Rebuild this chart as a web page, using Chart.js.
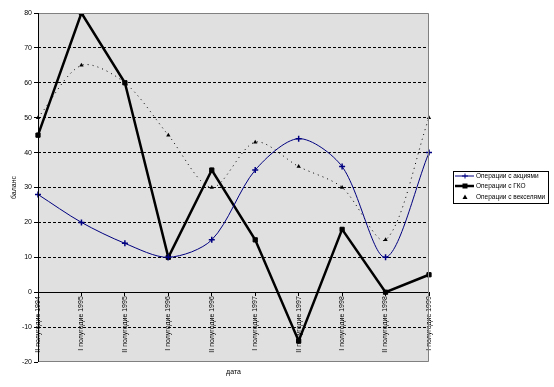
<!DOCTYPE html>
<html>
<head>
<meta charset="utf-8">
<script src="https://cdn.jsdelivr.net/npm/chart.js@4"></script>
<style>
  html, body { margin: 0; padding: 0; background: #fff; }
  #wrap { width: 554px; height: 387px; }
</style>
</head>
<body>
<div id="wrap"><canvas id="chart"></canvas></div>
<script>
const periods = ['II полугодие 1994', 'I полугодие 1995', 'II полугодие 1995', 'I полугодие 1996', 'II полугодие 1996',
                 'I полугодие 1997', 'II полугодие 1997', 'I полугодие 1998', 'II полугодие 1998', 'I полугодие 1999'];
const stocks = [28, 20, 14, 10, 15, 35, 44, 36, 10, 40];
const gko = [45, 80, 60, 10, 35, 15, -14, 18, 0, 5];
const bills = [50, 65, 60, 45, 30, 43, 36, 30, 15, 50];
const yTicks = { min: -20, max: 80, step: 10 };

const FONT = 'Arial, "Liberation Sans", sans-serif';

// серый фон и рамка области построения, подпись оси X, легенда в рамке
const excelLook = {
    id: 'excelLook',
    beforeDraw(chart) {
        const { ctx, chartArea: a } = chart;
        ctx.save();
        ctx.fillStyle = '#e0e0e0';
        ctx.fillRect(a.left, a.top, a.right - a.left, a.bottom - a.top);
        ctx.restore();
    },
    afterDraw(chart) {
        const { ctx, chartArea: a } = chart;
        ctx.save();
        ctx.strokeStyle = '#808080';
        ctx.lineWidth = 1;
        ctx.beginPath();
        ctx.moveTo(a.left, a.top + 0.5);
        ctx.lineTo(a.right - 0.5, a.top + 0.5);
        ctx.lineTo(a.right - 0.5, a.bottom - 0.5);
        ctx.lineTo(a.left, a.bottom - 0.5);
        ctx.stroke();
        // левая ось поверх рамки
        ctx.strokeStyle = '#000';
        ctx.beginPath();
        ctx.moveTo(a.left + 0.5, a.top);
        ctx.lineTo(a.left + 0.5, a.bottom);
        ctx.stroke();

        ctx.fillStyle = '#000';
        ctx.font = '7px ' + FONT;
        ctx.textAlign = 'center';
        ctx.textBaseline = 'middle';
        ctx.fillText('дата', (a.left + a.right) / 2, 372);

        // легенда
        const box = { x: 453.5, y: 171.5, w: 95, h: 32 };
        ctx.fillStyle = '#fff';
        ctx.fillRect(box.x, box.y, box.w, box.h);
        ctx.strokeStyle = '#000';
        ctx.strokeRect(box.x, box.y, box.w, box.h);
        const rows = [176, 186, 197];
        chart.data.datasets.forEach((ds, i) => {
            const y = rows[i];
            if (i < 2) {
                ctx.strokeStyle = ds.borderColor;
                ctx.lineWidth = ds.borderWidth;
                ctx.beginPath();
                ctx.moveTo(455, y);
                ctx.lineTo(474, y);
                ctx.stroke();
            }
            ctx.fillStyle = ds.borderColor;
            ctx.strokeStyle = ds.borderColor;
            ctx.lineWidth = 1;
            if (ds.pointStyle === 'cross') {
                ctx.beginPath();
                ctx.moveTo(462, y); ctx.lineTo(468, y);
                ctx.moveTo(465, y - 2.5); ctx.lineTo(465, y + 2.5);
                ctx.stroke();
            } else if (ds.pointStyle === 'rect') {
                ctx.fillRect(462.5, y - 2.5, 5, 5);
            } else {
                ctx.beginPath();
                ctx.moveTo(465, y - 2.5); ctx.lineTo(467.5, y + 2); ctx.lineTo(462.5, y + 2);
                ctx.closePath();
                ctx.fill();
            }
            ctx.fillStyle = '#000';
            ctx.font = '6.5px ' + FONT;
            ctx.textAlign = 'left';
            ctx.textBaseline = 'middle';
            ctx.fillText(ds.label, 476, y);
        });
        ctx.restore();
    }
};

new Chart(document.getElementById('chart'), {
    type: 'line',
    data: {
        labels: periods,
        datasets: [
            {
                label: 'Операции с акциями',
                data: stocks,
                borderColor: '#000080',
                backgroundColor: '#000080',
                borderWidth: 1,
                tension: 0.3,
                pointStyle: 'cross',
                pointRadius: 3,
                pointBorderWidth: 1.5
            },
            {
                label: 'Операции с ГКО',
                data: gko,
                borderColor: '#000',
                backgroundColor: '#000',
                borderWidth: 2.5,
                tension: 0,
                pointStyle: 'rect',
                pointRadius: 3,
                pointBorderWidth: 1
            },
            {
                label: 'Операции с векселями',
                data: bills,
                borderColor: '#000',
                backgroundColor: '#000',
                borderWidth: 1,
                borderDash: [1, 4],
                tension: 0.3,
                pointStyle: 'triangle',
                pointRadius: 2.5,
                pointBorderWidth: 0
            }
        ]
    },
    options: {
        responsive: true,
        maintainAspectRatio: false,
        animation: false,
        layout: { padding: { left: 0, right: 125, top: 13, bottom: 25 } },
        plugins: { legend: { display: false }, tooltip: { enabled: false } },
        scales: {
            x: {
                type: 'category',
                position: { y: 0 },
                offset: false,
                grid: { display: true, drawOnChartArea: false, drawTicks: true, tickLength: 3, tickColor: '#000' },
                border: { display: true, color: '#000', width: 1 },
                ticks: { minRotation: 90, maxRotation: 90, autoSkip: false, color: '#000', padding: 1, font: { family: FONT, size: 7 } }
            },
            y: {
                min: yTicks.min,
                max: yTicks.max,
                afterFit(scale) { scale.width = 38; },
                ticks: { stepSize: yTicks.step, color: '#000', padding: 2, font: { family: FONT, size: 7 } },
                grid: {
                    color: c => [yTicks.min, 0, yTicks.max].includes(c.tick && c.tick.value) ? 'rgba(0,0,0,0)' : '#000',
                    tickColor: '#000',
                    tickLength: 4,
                    tickBorderDash: [],
                    lineWidth: 1
                },
                border: { display: false, dash: [3, 2] },
                title: { display: true, text: 'баланс', color: '#000', padding: { top: 10, bottom: 2 }, font: { family: FONT, size: 7 } }
            }
        }
    },
    plugins: [excelLook]
});
</script>
</body>
</html>
